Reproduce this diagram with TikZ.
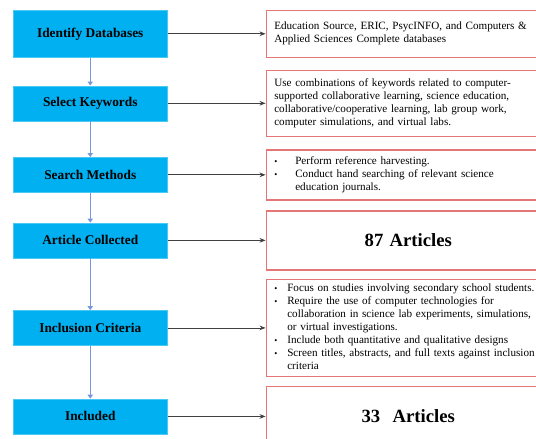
\documentclass[tikz,border=0pt]{standalone}
\usepackage{fontspec}
\setmainfont{Liberation Serif}
\usetikzlibrary{positioning,arrows.meta}
\definecolor{stepblue}{RGB}{0,176,240}
\definecolor{boxred}{RGB}{228,118,118}
\definecolor{flowblue}{RGB}{118,152,218}
\newcommand{\bul}{{\fontsize{6.5}{6.5}\selectfont\textbullet}}
\begin{document}
\begin{tikzpicture}[
   stepnode/.style={align=center,fill=stepblue,draw=stepblue!70!white,minimum width=115.5pt,minimum height=26.25pt,inner sep=0,font=\fontsize{10}{12}\selectfont\bfseries},
   infonode/.style={align=left,draw=boxred,line width=1.1pt,fill=white,text width=201pt,inner xsep=6pt,inner ysep=0,font=\fontsize{8.35}{9.75}\selectfont},
   countnode/.style={infonode,align=center,font=\fontsize{14}{16}\selectfont\bfseries},
   flowarrow/.style={flowblue,line width=0.9pt,-{Triangle[length=3pt,width=4pt]}},
   linkarrow/.style={black!75,line width=0.6pt,-{Stealth[length=4.5pt,width=3.5pt]}}
  ]
  \useasboundingbox (0,0) rectangle (402pt,-329.25pt);
  \clip (0,0) rectangle (402pt,-329.25pt);
  % steps on the left
  \node[stepnode, minimum height=35.25pt, anchor=north west] (db) at (9.75pt,-7.5pt) {Identify Databases};
  \node[stepnode, below=21pt of db] (kw) {Select Keywords};
  \node[stepnode, below=27pt of kw] (sm) {Search Methods};
  \node[stepnode, below=22.5pt of sm] (ac) {Article Collected};
  \node[stepnode, below=39pt of ac] (ic) {Inclusion Criteria};
  \node[stepnode, below=39.75pt of ic] (inc) {Included};
  % details on the right
  \node[infonode, minimum height=35.25pt, right=73.5pt of db] (dbinfo) {Education Source, ERIC, PsycINFO, and Computers \&\\Applied Sciences Complete databases};
  \node[infonode, minimum height=49.5pt, right=73.5pt of kw] (kwinfo) {Use combinations of keywords related to computer-\\supported collaborative learning, science education,\\collaborative/cooperative learning, lab group work,\\computer simulations, and virtual labs.};
  \node[infonode, minimum height=37.5pt, right=73.5pt of sm] (sminfo) {\begin{tabular}{@{}l@{\hspace{13.5pt}}l@{}}
    \bul & Perform reference harvesting.\\
    \bul & Conduct hand searching of relevant science\\
         & education journals.
  \end{tabular}};
  \node[countnode, minimum height=44.25pt, right=73.5pt of ac] (acinfo) {87 Articles};
  \node[infonode, minimum height=72.75pt, right=73.5pt of ic] (icinfo) {\begin{tabular}{@{}l@{\hspace{7.5pt}}l@{}}
    \bul & Focus on studies involving secondary school students.\\
    \bul & Require the use of computer technologies for\\
         & collaboration in science lab experiments, simulations,\\
         & or virtual investigations.\\
    \bul & Include both quantitative and qualitative designs\\
    \bul & Screen titles, abstracts, and full texts against inclusion\\
         & criteria
  \end{tabular}};
  \node[countnode, minimum height=45pt, right=73.5pt of inc] (incinfo) {33\ \ Articles};
  % connectors
  \draw[flowarrow] (db) -- (kw);
  \draw[flowarrow] (kw) -- (sm);
  \draw[flowarrow] (sm) -- (ac);
  \draw[flowarrow] (ac) -- (ic);
  \draw[flowarrow] (ic) -- (inc);
  \draw[linkarrow] (db) -- (dbinfo);
  \draw[linkarrow] (kw) -- (kwinfo);
  \draw[linkarrow] (sm) -- (sminfo);
  \draw[linkarrow] (ac) -- (acinfo);
  \draw[linkarrow] (ic) -- (icinfo);
  \draw[linkarrow] (inc) -- (incinfo);
\end{tikzpicture}
\end{document}
